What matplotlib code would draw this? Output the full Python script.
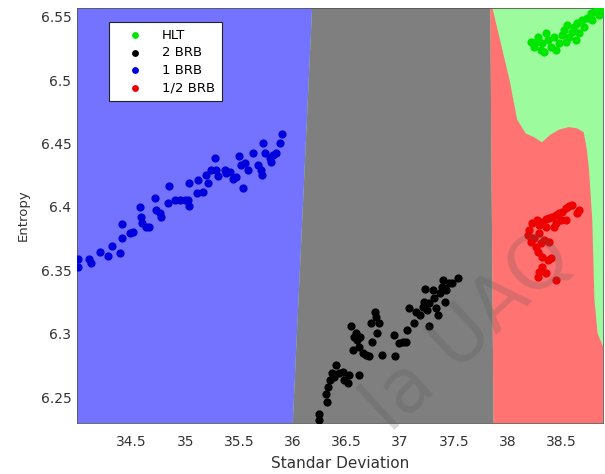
import matplotlib
matplotlib.use("Agg")
import matplotlib.pyplot as plt

plt.rcParams['font.family'] = ['DejaVu Sans']

# --- limites de los ejes ---
x_lim = (33.99, 38.89)
y_lim = (6.2295, 6.557)

# --- fronteras de decision (Standar Deviation, Entropy) ---
# frontera azul / gris
bg_x = [36.18, 36.00]
bg_y = [6.557, 6.2295]
# frontera gris / rojo
gr_x = [37.84, 37.87]
gr_y = [6.557, 6.2295]
# frontera rojo / verde (de arriba hacia abajo)
rg_x = [37.86, 38.02, 38.09, 38.17, 38.25, 38.32, 38.40, 38.48, 38.57,
        38.65, 38.71, 38.74, 38.76, 38.79, 38.81, 38.84, 38.89]
rg_y = [6.557, 6.500, 6.469, 6.458, 6.455, 6.451, 6.457, 6.461, 6.463,
        6.462, 6.459, 6.445, 6.429, 6.390, 6.327, 6.300, 6.290]

# --- datos: HLT ---
hlt_x = [38.218, 38.249, 38.280, 38.311, 38.326, 38.357, 38.373, 38.404,
         38.435, 38.450, 38.481, 38.512, 38.528, 38.559, 38.574, 38.605,
         38.621, 38.652, 38.667, 38.698, 38.714, 38.745, 38.776, 38.807,
         38.838, 38.853, 38.869, 38.792, 38.636, 38.543, 38.342, 38.264]
hlt_y = [6.5305, 6.5266, 6.5345, 6.5240, 6.5292, 6.5371, 6.5318, 6.5266,
         6.5345, 6.5240, 6.5292, 6.5358, 6.5397, 6.5437, 6.5345, 6.5384,
         6.5424, 6.5450, 6.5371, 6.5476, 6.5424, 6.5490, 6.5529, 6.5542,
         6.5555, 6.5516, 6.5560, 6.5476, 6.5318, 6.5305, 6.5226, 6.5305]

# --- datos: 2 BRB ---
brb2_x = [36.249, 36.249, 36.317, 36.305, 36.326, 36.348, 36.367, 36.404,
          36.388, 36.435, 36.466, 36.481, 36.512, 36.522, 36.543, 36.559,
          36.574, 36.590, 36.596, 36.615, 36.621, 36.627, 36.652, 36.683,
          36.714, 36.730, 36.739, 36.770, 36.776, 36.782, 36.807, 36.832,
          36.947, 36.956, 36.993, 37.024, 37.055, 37.061, 37.080, 37.133,
          37.148, 37.185, 37.216, 37.226, 37.235, 37.247, 37.266, 37.272,
          37.303, 37.319, 37.334, 37.350, 37.371, 37.390, 37.396, 37.421,
          37.427, 37.458, 37.483, 37.536]
brb2_y = [6.2320, 6.2366, 6.2463, 6.2524, 6.2582, 6.2634, 6.2692, 6.2753,
          6.2661, 6.2687, 6.2700, 6.2634, 6.2608, 6.2674, 6.3061, 6.2871,
          6.2976, 6.3003, 6.2950, 6.2897, 6.2674, 6.2976, 6.2845, 6.2832,
          6.2824, 6.3082, 6.2937, 6.3174, 6.3134, 6.3003, 6.3082, 6.2832,
          6.2990, 6.2824, 6.2929, 6.2937, 6.2937, 6.3029, 6.3200, 6.3087,
          6.3174, 6.3147, 6.3213, 6.3253, 6.3350, 6.3187, 6.3061, 6.3240,
          6.3345, 6.3279, 6.3200, 6.3147, 6.3318, 6.3371, 6.3424, 6.3253,
          6.3345, 6.3397, 6.3403, 6.3437]

# --- datos: 1 BRB ---
brb1_x = [34.001, 34.001, 34.103, 34.116, 34.202, 34.280, 34.320, 34.395,
          34.413, 34.413, 34.481, 34.512, 34.574, 34.590, 34.599, 34.636,
          34.661, 34.714, 34.729, 34.760, 34.776, 34.838, 34.847, 34.900,
          34.947, 34.993, 35.024, 35.033, 35.033, 35.117, 35.108, 35.164,
          35.195, 35.210, 35.241, 35.272, 35.288, 35.303, 35.365, 35.381,
          35.412, 35.443, 35.467, 35.498, 35.520, 35.536, 35.551, 35.582,
          35.629, 35.675, 35.706, 35.712, 35.722, 35.737, 35.784, 35.799,
          35.815, 35.846, 35.877, 35.902]
brb1_y = [6.3587, 6.3529, 6.3587, 6.3555, 6.3647, 6.3613, 6.3695, 6.3639,
          6.3753, 6.3866, 6.3792, 6.3805, 6.4003, 6.3924, 6.3871, 6.3845,
          6.3840, 6.4069, 6.3976, 6.3950, 6.3924, 6.4029, 6.4166, 6.4055,
          6.4055, 6.4055, 6.4055, 6.4192, 6.4008, 6.4213, 6.4108, 6.4121,
          6.4253, 6.4187, 6.4292, 6.4384, 6.4292, 6.4245, 6.4292, 6.4266,
          6.4279, 6.4218, 6.4234, 6.4403, 6.4332, 6.4147, 6.4345, 6.4292,
          6.4424, 6.4332, 6.4292, 6.4253, 6.4508, 6.4424, 6.4384, 6.4358,
          6.4411, 6.4424, 6.4503, 6.4574]

# --- datos: 1/2 BRB ---
brbh_x = [38.202, 38.187, 38.233, 38.271, 38.295, 38.326, 38.357, 38.388,
          38.419, 38.450, 38.481, 38.512, 38.543, 38.574, 38.605, 38.652,
          38.667, 38.497, 38.450, 38.357, 38.295, 38.249, 38.218, 38.264,
          38.311, 38.342, 38.388, 38.280, 38.326, 38.373, 38.404, 38.326,
          38.295, 38.357, 38.280, 38.450, 38.218, 38.435, 38.543]
brbh_y = [6.3818, 6.3779, 6.3871, 6.3897, 6.3858, 6.3884, 6.3903, 6.3911,
          6.3918, 6.3937, 6.3950, 6.3963, 6.3990, 6.4008, 6.4016, 6.3950,
          6.3976, 6.3897, 6.3871, 6.3845, 6.3792, 6.3753, 6.3726, 6.3687,
          6.3713, 6.3740, 6.3726, 6.3647, 6.3608, 6.3582, 6.3595, 6.3529,
          6.3490, 6.3476, 6.3450, 6.3424, 6.3753, 6.3845, 6.3897]

x_ticks = [34.5, 35, 35.5, 36, 36.5, 37, 37.5, 38, 38.5]
x_labels = ['34.5', '35', '35.5', '36', '36.5', '37', '37.5', '38', '38.5']
y_ticks = [6.25, 6.3, 6.35, 6.4, 6.45, 6.5, 6.55]
y_labels = ['6.25', '6.3', '6.35', '6.4', '6.45', '6.5', '6.55']

# colores
c_green_reg, c_gray_reg = '#9cfb9c', '#7f7f7f'
c_blue_reg, c_red_reg = '#7373ff', '#ff7373'

fig = plt.figure(figsize=(6.05, 4.74), dpi=100)
ax = fig.add_axes([77 / 605, 51 / 474, 526 / 605, 415 / 474])
ax.set_facecolor(c_green_reg)

x0, x1 = x_lim
y0, y1 = y_lim

# regiones
ax.fill([x0, bg_x[0], bg_x[1], x0], [y1, bg_y[0], bg_y[1], y0],
        color=c_blue_reg, lw=0)
ax.fill([bg_x[0], gr_x[0], gr_x[1], bg_x[1]], [bg_y[0], gr_y[0], gr_y[1], bg_y[1]],
        color=c_gray_reg, lw=0)
red_px = [gr_x[1], gr_x[0]] + rg_x + [x1, x1]
red_py = [gr_y[1], gr_y[0]] + rg_y + [rg_y[-1], y0]
ax.fill(red_px, red_py, color=c_red_reg, lw=0)

# puntos
ms = 24
ax.scatter(hlt_x, hlt_y, s=ms, color='#00e600', label='HLT', zorder=3)
ax.scatter(brb2_x, brb2_y, s=ms, color='black', label='2 BRB', zorder=3)
ax.scatter(brb1_x, brb1_y, s=ms, color='#0000dd', label='1 BRB', zorder=3)
ax.scatter(brbh_x, brbh_y, s=ms, color='#ee0000', label='1/2 BRB', zorder=3)

ax.set_xlim(x_lim)
ax.set_ylim(y_lim)
ax.set_xticks(x_ticks)
ax.set_xticklabels(x_labels)
ax.set_yticks(y_ticks)
ax.set_yticklabels(y_labels)
ax.tick_params(axis='both', length=0, labelsize=10, colors='#333333')
ax.tick_params(axis='x', pad=9)
ax.tick_params(axis='y', pad=4)
for s in ax.spines.values():
    s.set_linewidth(0.6)
    s.set_color('#555555')

ax.set_xlabel('Standar Deviation', fontsize=11, color='#333333', labelpad=5)
ax.set_ylabel('Entropy', fontsize=9.5, color='#333333', labelpad=8)

leg = ax.legend(loc='upper left', bbox_to_anchor=(0.061, 0.966), borderaxespad=0,
                fontsize=9.5, frameon=True, fancybox=False, framealpha=1,
                edgecolor='#222222', labelspacing=0.35, handletextpad=0.6,
                handlelength=2.9, borderpad=0.5, markerscale=0.8)
leg.get_frame().set_linewidth(0.8)

# marca de agua
fig.text(0.775, 0.30, 'la UAQ', fontsize=54, rotation=43, color='#555555',
         alpha=0.22, ha='center', va='center')

fig.savefig('out.png', dpi=100)
